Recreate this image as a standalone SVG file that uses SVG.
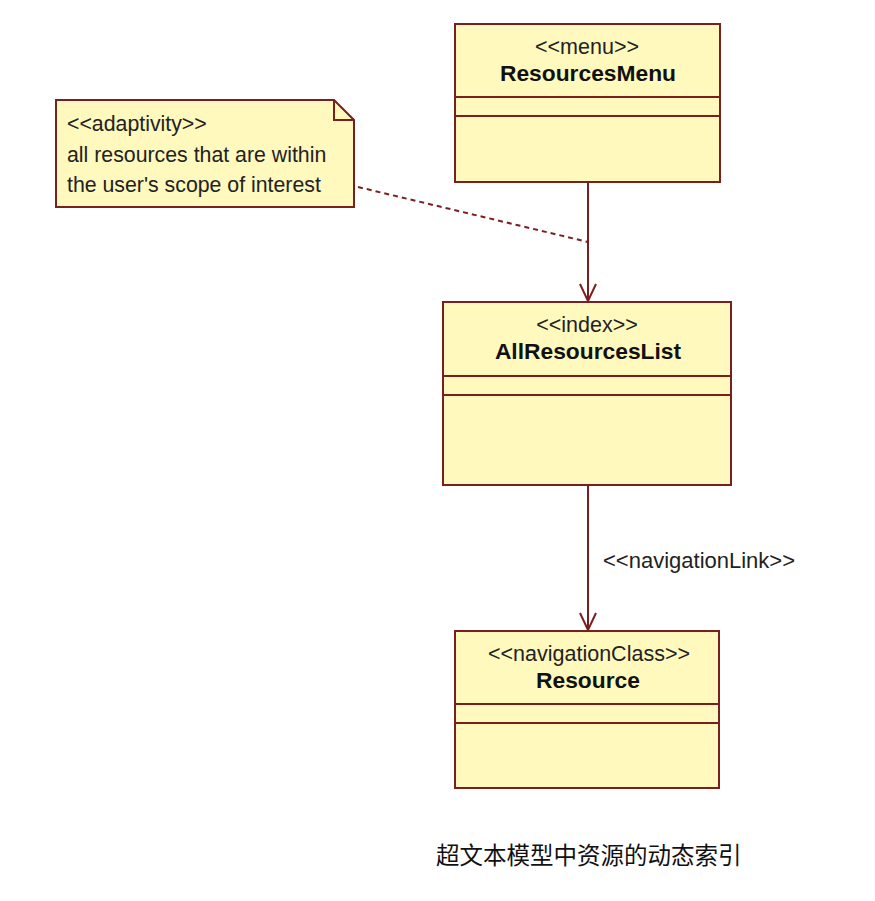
<svg xmlns="http://www.w3.org/2000/svg" width="875" height="901" viewBox="0 0 875 901">
<defs>
<style>
.box{fill:#fff9bd;stroke:#7a1f1f;stroke-width:2}
.div{stroke:#7a1f1f;stroke-width:2;fill:none}
.st{font-family:"Liberation Sans",Arial,sans-serif;font-size:21.5px;fill:#222;text-anchor:middle}
.nm{font-family:"Liberation Sans",Arial,sans-serif;font-size:22.8px;font-weight:bold;fill:#111;text-anchor:middle}
.nt{font-family:"Liberation Sans",Arial,sans-serif;font-size:21.3px;fill:#222}
.edge{stroke:#7a1f1f;stroke-width:2;fill:none}
.dash{stroke:#7a1f1f;stroke-width:2;fill:none;stroke-dasharray:5 4}
.cap{font-family:"Noto Sans CJK SC","Liberation Sans",sans-serif;font-size:23.5px;fill:#111}
</style>
<marker id="open" markerWidth="20" markerHeight="20" refX="18" refY="10" orient="auto" markerUnits="userSpaceOnUse">
<path d="M1,2 L18,10 L1,18" fill="none" stroke="#7a1f1f" stroke-width="2"/>
</marker>
</defs>
<rect width="875" height="901" fill="#ffffff"/>
<g id="connectors">
<line class="edge" x1="588" y1="182" x2="588" y2="301" marker-end="url(#open)"/>
<line class="edge" x1="588" y1="485" x2="588" y2="630" marker-end="url(#open)"/>
<line class="dash" x1="358" y1="187" x2="588" y2="242"/>
<text class="nt" x="603" y="568" style="font-size:22px">&lt;&lt;navigationLink&gt;&gt;</text>
</g>
<g id="note">
<path class="box" d="M56,100 L334,100 L354,120 L354,207 L56,207 Z"/>
<path class="div" d="M334,100 L334,120 L354,120"/>
<text class="nt" x="67" y="131">&lt;&lt;adaptivity&gt;&gt;</text>
<text class="nt" x="67" y="162">all resources that are within</text>
<text class="nt" x="67" y="192">the user's scope of interest</text>
</g>
<g id="ResourcesMenu">
<rect class="box" x="455" y="24" width="265" height="158"/>
<line class="div" x1="455" y1="97" x2="720" y2="97"/>
<line class="div" x1="455" y1="116" x2="720" y2="116"/>
<text class="st" x="587" y="54">&lt;&lt;menu&gt;&gt;</text>
<text class="nm" x="588" y="81">ResourcesMenu</text>
</g>
<g id="AllResourcesList">
<rect class="box" x="443" y="302" width="288" height="183"/>
<line class="div" x1="443" y1="376" x2="731" y2="376"/>
<line class="div" x1="443" y1="395" x2="731" y2="395"/>
<text class="st" x="587" y="332">&lt;&lt;index&gt;&gt;</text>
<text class="nm" x="588" y="359">AllResourcesList</text>
</g>
<g id="Resource">
<rect class="box" x="455" y="631" width="264" height="157"/>
<line class="div" x1="455" y1="704" x2="719" y2="704"/>
<line class="div" x1="455" y1="723" x2="719" y2="723"/>
<text class="st" x="589" y="661">&lt;&lt;navigationClass&gt;&gt;</text>
<text class="nm" x="588" y="688">Resource</text>
</g>
<text class="cap" x="436" y="864">超文本模型中资源的动态索引</text>
</svg>
